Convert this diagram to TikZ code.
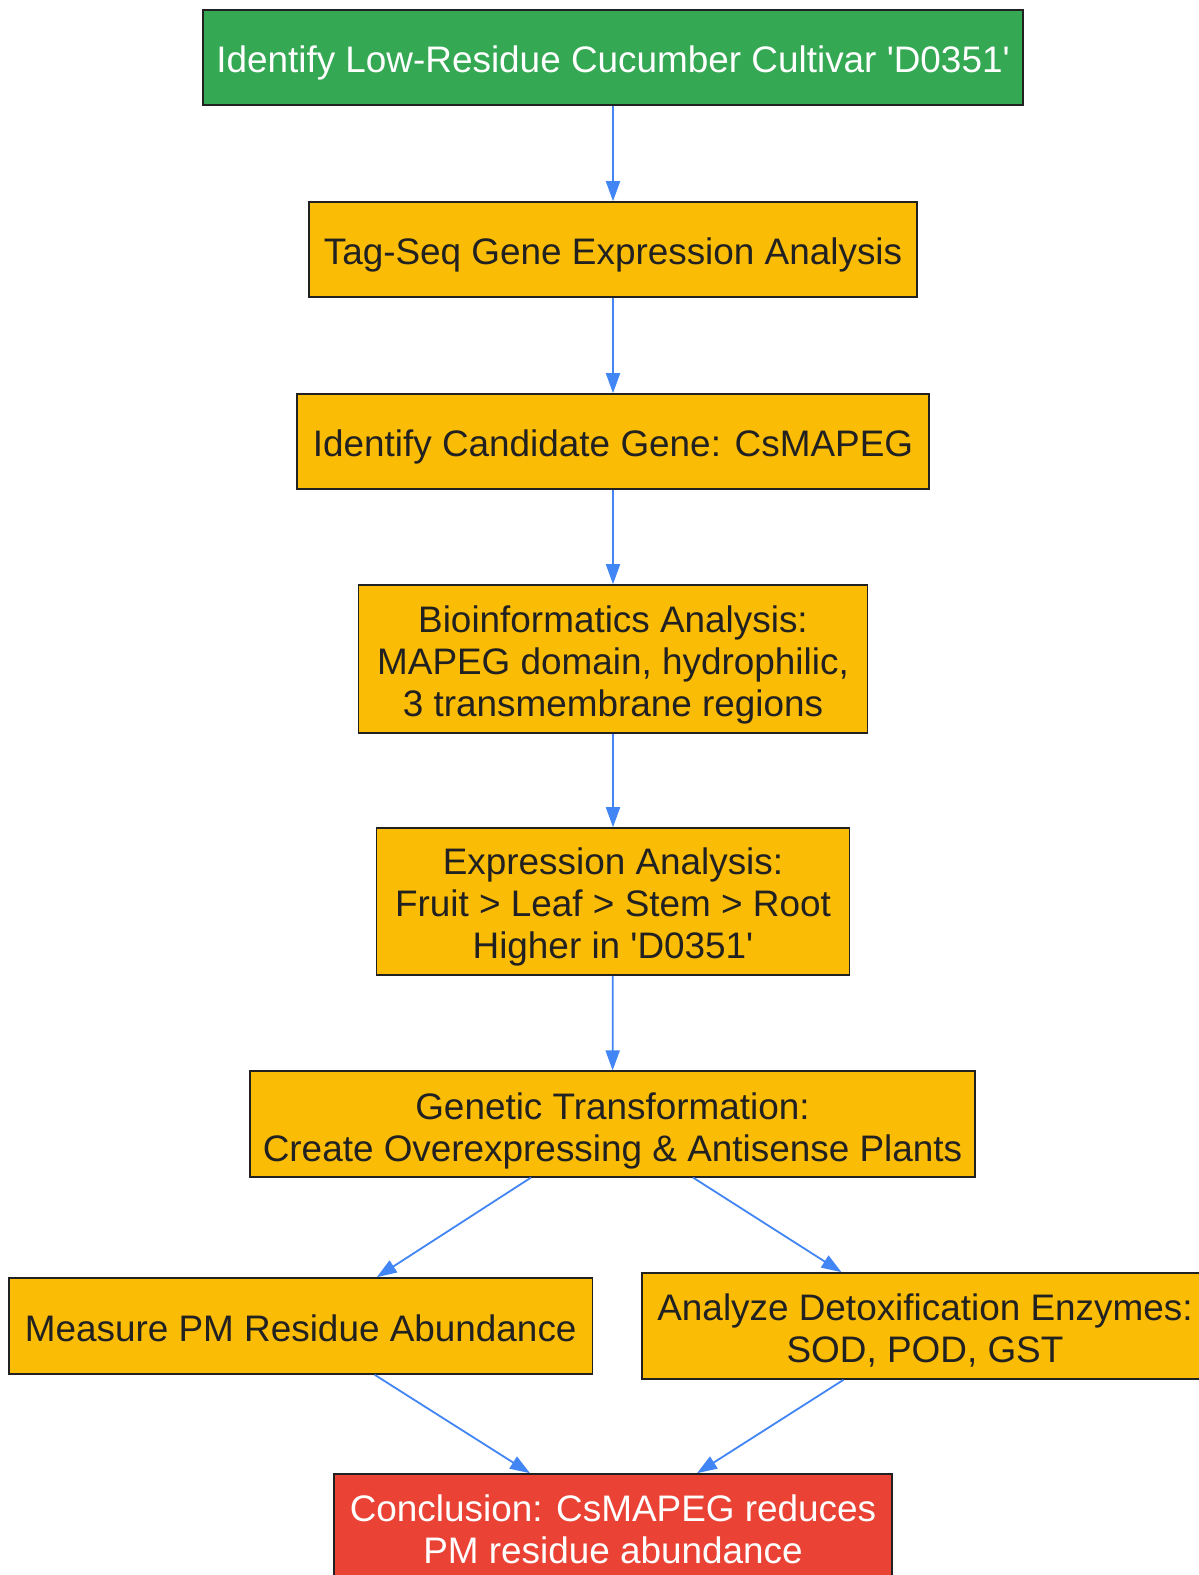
\documentclass[tikz,border=0pt]{standalone}
\usepackage{fontspec}
\setmainfont{Liberation Sans}[Ligatures=TeXOff]
\usetikzlibrary{arrows.meta}
\definecolor{gGreen}{HTML}{34A853}
\definecolor{gYellow}{HTML}{FBBC05}
\definecolor{gRed}{HTML}{EA4335}
\definecolor{gBlue}{HTML}{4285F4}
\definecolor{gInk}{HTML}{212121}
% #1 = extra height on top (pushes the text down by half of it)
\newcommand\btext[2]{\raisebox{0pt}[\dimexpr\height+#1\relax]{\begin{tabular}{@{}c@{}}#2\end{tabular}}}
\begin{document}
\begin{tikzpicture}[x=1pt,y=-1pt,
  box/.style={draw=gInk, line width=1.6pt, inner sep=0pt,
    font=\fontsize{36.9}{41.9}\selectfont, text=gInk},
  yellowbox/.style={box, fill=gYellow},
  greenbox/.style={box, fill=gGreen, text=white},
  redbox/.style={box, fill=gRed, text=white},
  conn/.style={draw=gBlue, line width=1.8pt, -{Triangle[length=20pt,width=14pt]}}]
\useasboundingbox (0,0) rectangle (1199,1575);
\fill[white] (0,0) rectangle (1199,1575);
\node[greenbox, minimum width=820pt, minimum height=95pt] (n1) at (613,57.5) {\btext{14pt}{Identify Low-Residue Cucumber Cultivar 'D0351'}};
\node[yellowbox, minimum width=608pt, minimum height=95pt] (n2) at (613,249.5) {\btext{14pt}{Tag-Seq Gene Expression Analysis}};
\node[yellowbox, minimum width=632pt, minimum height=95pt] (n3) at (613,441.5) {\btext{14pt}{Identify Candidate Gene: CsMAPEG}};
\node[yellowbox, minimum width=509pt, minimum height=148pt] (n4) at (613,659) {\btext{14pt}{Bioinformatics Analysis:\\MAPEG domain, hydrophilic,\\3 transmembrane regions}};
\node[yellowbox, minimum width=473pt, minimum height=147pt] (n5) at (613,901.5) {\btext{14pt}{Expression Analysis:\\Fruit > Leaf > Stem > Root\\Higher in 'D0351'}};
\node[yellowbox, minimum width=725pt, minimum height=105.5pt] (n6) at (612.5,1124) {\btext{16pt}{Genetic Transformation:\\Create Overexpressing \& Antisense Plants}};
\node[yellowbox, minimum width=583.5pt, minimum height=96pt] (n7) at (300.7,1326) {\btext{15pt}{Measure PM Residue Abundance}};
\node[yellowbox, minimum width=566pt, minimum height=106pt] (n8) at (925,1326) {\btext{15pt}{Analyze Detoxification Enzymes:\\SOD, POD, GST}};
\node[redbox, minimum width=558pt, minimum height=106pt] (n9) at (613,1527) {\btext{14pt}{Conclusion: CsMAPEG reduces\\PM residue abundance}};
\draw[conn] (n1) -- (n2);
\draw[conn] (n2) -- (n3);
\draw[conn] (n3) -- (n4);
\draw[conn] (n4) -- (n5);
\draw[conn] (n5) -- (n6);
\draw[conn] ([xshift=-81.5pt]n6.south) -- ([xshift=76pt]n7.north);
\draw[conn] ([xshift=80.5pt]n6.south) -- ([xshift=-83.5pt]n8.north);
\draw[conn] ([xshift=74pt]n7.south) -- ([xshift=-83pt]n9.north);
\draw[conn] ([xshift=-81.5pt]n8.south) -- ([xshift=84pt]n9.north);
\end{tikzpicture}
\end{document}
